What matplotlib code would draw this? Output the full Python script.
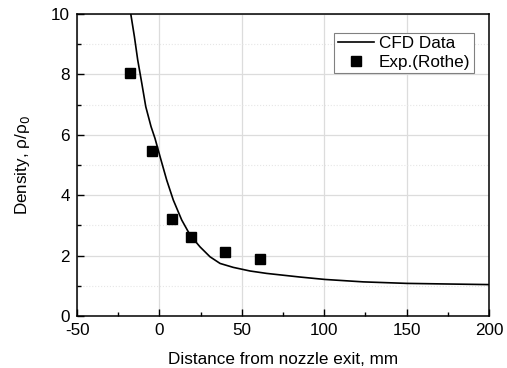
import matplotlib.pyplot as plt
from matplotlib.ticker import MultipleLocator

plt.rcParams['font.family'] = ['Liberation Sans', 'DejaVu Sans']
plt.rcParams['axes.unicode_minus'] = False

# CFD curve
cfd_x = [-17.4, -15.2, -13.2, -10.7, -8.3, -5.1, -2.7, 0.4, 4.4, 8.4,
         13.5, 18.6, 24.6, 30.7, 36.8, 44.8, 55.0, 65.1, 75.2, 85.3,
         100.5, 123.7, 150.0, 174.3, 200.0]
cfd_y = [10.0, 9.25, 8.48, 7.70, 6.93, 6.27, 5.88, 5.27, 4.50, 3.84,
         3.18, 2.68, 2.29, 1.96, 1.74, 1.61, 1.49, 1.41, 1.35, 1.29,
         1.21, 1.13, 1.08, 1.06, 1.04]

# experimental points (Rothe)
exp_x = [-17.8, -4.3, 7.8, 19.0, 39.8, 61.0]
exp_y = [8.06, 5.47, 3.2, 2.6, 2.12, 1.89]

fig = plt.figure(figsize=(5.07, 3.68), dpi=100)
ax = fig.add_axes([0.152, 0.1413, 0.8125, 0.8207])

ax.plot(cfd_x, cfd_y, color='black', linewidth=1.2, label='CFD Data', zorder=3)
ax.plot(exp_x, exp_y, linestyle='none', marker='s', markersize=7,
        color='black', label='Exp.(Rothe)', zorder=4)

ax.set_xlim(-50, 200)
ax.set_ylim(0, 10)
ax.xaxis.set_major_locator(MultipleLocator(50))
ax.xaxis.set_minor_locator(MultipleLocator(25))
ax.yaxis.set_major_locator(MultipleLocator(2))
ax.yaxis.set_minor_locator(MultipleLocator(1))

ax.grid(True, which='major', color='#dcdcdc', linewidth=0.9)
ax.grid(True, which='minor', axis='y', color='#e6e6e6', linewidth=0.8, linestyle=':')
ax.set_axisbelow(True)

ax.tick_params(which='both', direction='in', top=False, right=False,
               labelsize=12.3, width=1)
ax.tick_params(which='major', length=5)
ax.tick_params(which='minor', length=3)
ax.tick_params(axis='x', which='major', pad=5)
ax.tick_params(axis='y', which='major', pad=5)
for sp in ax.spines.values():
    sp.set_linewidth(1.1)

ax.set_xlabel('Distance from nozzle exit, mm', fontsize=12.3, labelpad=10)
ax.set_ylabel('Density, ρ/ρ$_0$', fontsize=12.3, labelpad=14)

leg = ax.legend(loc='upper right', bbox_to_anchor=(0.963, 0.937), fontsize=12.3,
                fancybox=False, framealpha=1, edgecolor='#808080',
                handlelength=2.1, handletextpad=0.3, borderpad=0.2,
                labelspacing=0.2, borderaxespad=0)
leg.get_frame().set_linewidth(0.8)

fig.savefig('out.png', dpi=100)
